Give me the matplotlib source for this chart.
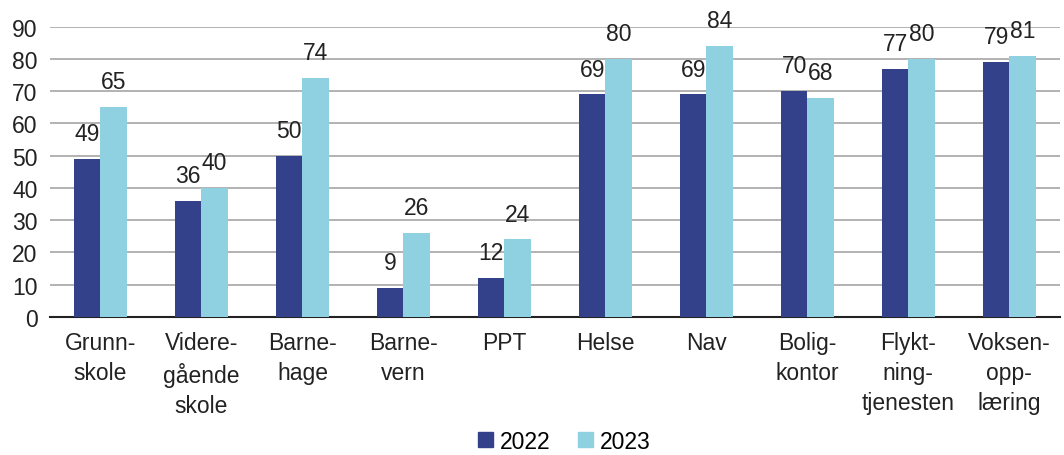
import numpy as np
import matplotlib.pyplot as plt
from matplotlib.patches import Patch

plt.rcParams['font.family'] = ['Liberation Sans', 'DejaVu Sans']

categories = ["Grunn-\nskole", "Videre-\ngående\nskole", "Barne-\nhage", "Barne-\nvern", "PPT",
              "Helse", "Nav", "Bolig-\nkontor", "Flykt-\nning-\ntjenesten", "Voksen-\nopp-\nlæring"]
v2022 = [49, 36, 50, 9, 12, 69, 69, 70, 77, 79]
v2023 = [65, 40, 74, 26, 24, 80, 84, 68, 80, 81]
c2022 = "#33418a"
c2023 = "#8fd1e1"
fs = 16.5

fig, ax = plt.subplots(figsize=(10.64, 4.56), dpi=100)
fig.subplots_adjust(left=0.047, right=0.996, bottom=0.303, top=0.939)

x = np.arange(len(categories))
w = 0.26
b1 = ax.bar(x - w / 2, v2022, w, color=c2022, zorder=3)
b2 = ax.bar(x + w / 2, v2023, w, color=c2023, zorder=3)
for bars in (b1, b2):
    ax.bar_label(bars, padding=10, fontsize=fs, color="#222222")

ax.set_xlim(-0.5, len(categories) - 0.5)
ax.set_ylim(0, 90)
ax.set_yticks(range(0, 91, 10))
ax.yaxis.grid(True, color="#a6a6a6", linewidth=1.2, zorder=0)
for s in ("top", "right", "left"):
    ax.spines[s].set_visible(False)
ax.spines["bottom"].set_color("#222222")
ax.spines["bottom"].set_linewidth(1.5)
ax.set_xticks(x)
ax.set_xticklabels(categories, linespacing=1.4)
ax.tick_params(axis="both", length=0, labelsize=fs, colors="#222222")
ax.tick_params(axis="x", pad=10)
ax.tick_params(axis="y", pad=9)

handles = [Patch(color=c2022), Patch(color=c2023)]
fig.legend(handles, ["2022", "2023"], loc="lower center", ncol=2, frameon=False,
           fontsize=fs, handlelength=0.65, handleheight=0.65, handletextpad=0.3,
           columnspacing=1.2, bbox_to_anchor=(0.53, -0.04))

fig.savefig("out.png", dpi=100)
